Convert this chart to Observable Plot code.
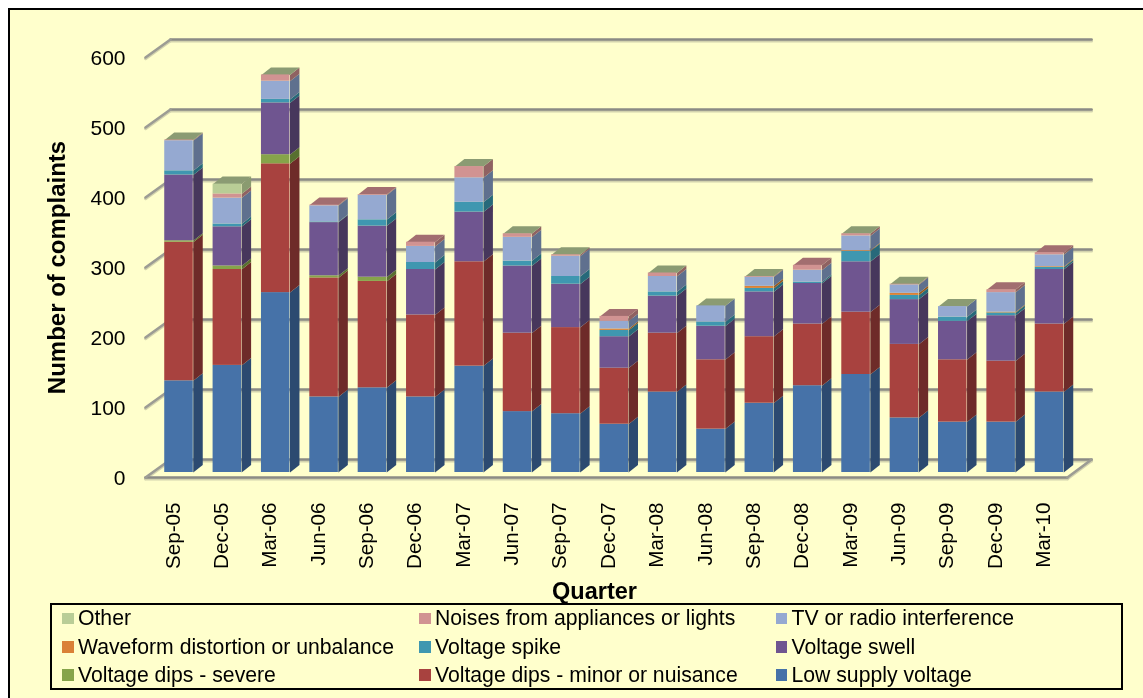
<!DOCTYPE html>
<html>
<head>
<meta charset="utf-8">
<script src="https://cdn.jsdelivr.net/npm/d3@7"></script>
<script src="https://cdn.jsdelivr.net/npm/@observablehq/plot@0.6"></script>
<style>
html,body{margin:0;padding:0;background:#fff;width:1143px;height:698px;overflow:hidden;font-family:"Liberation Sans",Arial,sans-serif;color:#000}
#panel{position:absolute;left:7.5px;top:8px;width:1140px;height:700px;background:#FFFFCC;border-left:2px solid #000;border-top:2px solid #000}
#legend{position:absolute;left:50px;top:603px;width:1069px;height:83px;border:2px solid #000;filter:blur(.35px)}
.item{position:absolute;font-size:21.2px;line-height:24px;white-space:nowrap}
.sw{position:absolute;width:11.5px;height:11.5px}
svg{filter:blur(.45px)}
</style>
</head>
<body>
<div id="panel"></div>
<div id="chart"></div>
<div id="legend"></div>
<script>
const quarters = ["Sep-05","Dec-05","Mar-06","Jun-06","Sep-06","Dec-06","Mar-07","Jun-07","Sep-07","Dec-07","Mar-08","Jun-08","Sep-08","Dec-08","Mar-09","Jun-09","Sep-09","Dec-09","Mar-10"];
const lowSupply  = [131,153,257,108,121,108,152, 87, 84, 69,115, 62, 99,124,140, 78, 72, 72,115];
const dipsMinor  = [198,137,184,170,152,117,149,112,123, 80, 84, 99, 95, 88, 89,105, 89, 87, 97];
const dipsSevere = [  2,  5, 13,  3,  6,  0,  0,  0,  0,  0,  0,  0,  0,  0,  0,  0,  0,  0,  0];
const swell      = [ 94, 56, 74, 76, 73, 65, 71, 96, 62, 45, 53, 48, 64, 58, 72, 64, 55, 65, 78];
const spike      = [  6,  4,  5,  1,  9, 10, 14,  7, 11,  9,  6,  6,  5,  2, 15,  6,  6,  4,  3];
const waveform   = [  0,  0,  0,  0,  0,  0,  0,  0,  0,  2,  0,  0,  3,  0,  1,  3,  0,  1,  1];
const tvRadio    = [ 43, 37, 26, 23, 35, 23, 35, 34, 29, 11, 22, 23, 13, 17, 21, 12, 15, 28, 17];
const noises     = [  1,  6,  9,  1,  1,  6, 16,  5,  2,  7,  5,  0,  1,  7,  3,  1,  0,  4,  3];
const other      = [  0, 14,  0,  0,  0,  0,  0,  0,  0,  0,  0,  0,  0,  0,  0,  0,  0,  0,  0];
// which colour the roof of each column shows
const roof = ["g","g","g","r","r","r","g","g","g","r","g","g","g","r","g","g","g","r","r"];
const yTicks = [0,100,200,300,400,500,600];

const series = [
  {name:"Low supply voltage", values:lowSupply, front:"#4672A8", side:"#2C4A70"},
  {name:"Voltage dips - minor or nuisance", values:dipsMinor, front:"#A8423F", side:"#6E2B29"},
  {name:"Voltage dips - severe", values:dipsSevere, front:"#86A44A", side:"#58702F"},
  {name:"Voltage swell", values:swell, front:"#6F5590", side:"#47375C"},
  {name:"Voltage spike", values:spike, front:"#3F97B0", side:"#27697A"},
  {name:"Waveform distortion or unbalance", values:waveform, front:"#DA8137", side:"#96581F"},
  {name:"TV or radio interference", values:tvRadio, front:"#95A9D1", side:"#5F708E"},
  {name:"Noises from appliances or lights", values:noises, front:"#D19392", side:"#8F6262"},
  {name:"Other", values:other, front:"#B9CD96", side:"#8A9B70"}
];

// projection constants, in data units
const barW = 0.59, depthX = 0.196, depthY = 10.7;
const backX = [-0.176, 18.87], backLift = 18.57;
const frontX = [-0.693, 18.37], frontDrop = -7.14;

const segments = [], polys = [];
quarters.forEach((q, i) => {
  let base = 0;
  const x2 = i + barW / 2;
  series.forEach((s, k) => {
    const v = s.values[i];
    if (v > 0) {
      segments.push({i, name:s.name, y1:base, y2:base + v, fill:s.front});
      const id = `side-${i}-${k}`;
      [[x2, base],[x2 + depthX, base + depthY],[x2 + depthX, base + v + depthY],[x2, base + v]]
        .forEach(([x, y]) => polys.push({id, x, y, fill:s.side}));
    }
    base += v;
  });
  const id = `top-${i}`, fill = roof[i] === "g" ? "#8B9B73" : "#A26E70";
  [[x2 - barW, base],[x2, base],[x2 + depthX, base + depthY],[x2 - barW + depthX, base + depthY]]
    .forEach(([x, y]) => polys.push({id, x, y, fill}));
});

const rails = [];
function rail(id, a, b, kind) { rails.push({id, kind, x:a[0], y:a[1]}, {id, kind, x:b[0], y:b[1]}); }
yTicks.forEach(v => {
  rail(`back-${v}`, [backX[0], v + backLift], [backX[1], v + backLift], "wall");
  rail(`diag-${v}`, [frontX[0], v + frontDrop], [backX[0], v + backLift], "diag");
});
rail("floor-front", [frontX[0], frontDrop], [frontX[1], frontDrop], "wall");
rail("floor-right", [frontX[1], frontDrop], [backX[1], backLift], "diag");

const lineOpts = {x:"x", y:"y", z:"id"};
const chart = Plot.plot({
  width:1143, height:698,
  marginLeft:125, marginRight:80, marginTop:34, marginBottom:198,
  style:{position:"absolute", left:"0", top:"0", background:"transparent", fontFamily:"'Liberation Sans',Arial,sans-serif", color:"#000", overflow:"visible"},
  x:{domain:[0,18], range:[178.5,1049], axis:null},
  y:{domain:[0,600], range:[472,52], axis:null},
  marks:[
    Plot.line(rails.filter(d => d.kind === "wall"), {...lineOpts, stroke:"#D3D3AE", strokeWidth:3, dy:1.5}),
    Plot.line(rails.filter(d => d.kind === "diag"), {...lineOpts, stroke:"#D3D3AE", strokeWidth:3, dy:1.2}),
    Plot.line(rails.filter(d => d.kind === "wall"), {...lineOpts, stroke:"#8B8B85", strokeWidth:2.6}),
    Plot.line(rails.filter(d => d.kind === "diag"), {...lineOpts, stroke:"#9C9C94", strokeWidth:2.6}),
    Plot.line(polys, {...lineOpts, fill:"fill", stroke:"none", curve:"linear"}),
    Plot.rect(segments, {x1:d => d.i - barW / 2, x2:d => d.i + barW / 2, y1:"y1", y2:"y2", fill:"fill", title:"name"}),
    Plot.axisX(quarters.map((_, i) => i), {tickFormat:i => quarters[i], tickRotate:-90, tickSize:0, tickPadding:2, fontSize:20.6, dx:-6, label:null}),
    Plot.axisY(yTicks, {tickSize:0, tickPadding:0, fontSize:21, dy:5.5, label:null}),
    Plot.text(["Number of complaints"], {frameAnchor:"left", textAnchor:"middle", rotate:-90, dx:-68, fontWeight:"bold", fontSize:24}),
    Plot.text(["Quarter"], {frameAnchor:"bottom", dy:98, fontWeight:"bold", fontSize:23.5})
  ]
});
document.getElementById("chart").appendChild(chart);

// legend: three columns, top row first
const legendOrder = ["Other","Noises from appliances or lights","TV or radio interference",
  "Waveform distortion or unbalance","Voltage spike","Voltage swell",
  "Voltage dips - severe","Voltage dips - minor or nuisance","Low supply voltage"];
const legend = document.getElementById("legend");
const colLeft = [10, 367, 723.5], rowTop = [7.5, 36, 64];
legendOrder.forEach((name, n) => {
  const s = series.find(d => d.name === name), c = n % 3, r = Math.floor(n / 3);
  const sw = document.createElement("div");
  sw.className = "sw";
  sw.style.cssText = `left:${colLeft[c]}px;top:${rowTop[r]}px;background:${s.front}`;
  const t = document.createElement("div");
  t.className = "item";
  t.style.cssText = `left:${colLeft[c] + 16}px;top:${rowTop[r] - 6.5}px`;
  t.textContent = name;
  legend.append(sw, t);
});
</script>
</body>
</html>
